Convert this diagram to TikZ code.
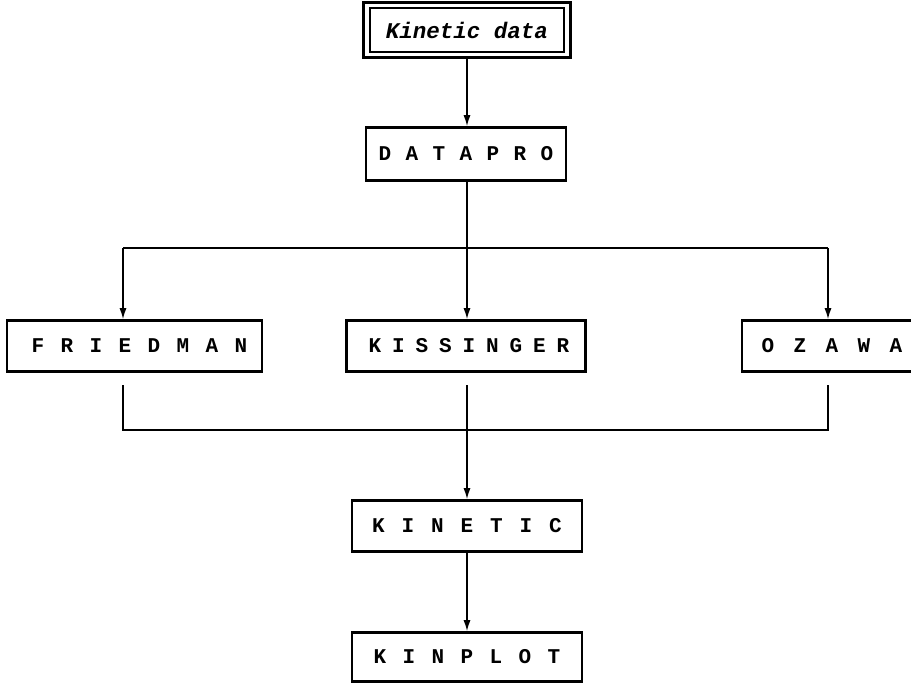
\documentclass[tikz,border=0pt]{standalone}
\usepackage{fontspec}
\setmonofont{Liberation Mono}
\usetikzlibrary{arrows.meta}
% letters set one by one at a fixed pitch
\makeatletter
\newcommand\pitched[2]{\@tfor\pch:=#2\do{\makebox[#1]{\pch}}}
\makeatother
\tikzset{
  x=1pt, y=-1pt,
  prog/.style={draw, line width=2.6pt, inner sep=0pt, anchor=center,
    font=\ttfamily\bfseries\fontsize{21}{21}\selectfont},
  wire/.style={line width=1.4pt},
  arr/.style={wire, -{Latex[length=11pt,width=7pt]}},
}
\begin{document}
\begin{tikzpicture}
\useasboundingbox (0,0) rectangle (911,683);
\clip (0,0) rectangle (911,683);

% input data box (double frame)
\node[draw, line width=2.8pt, minimum width=207pt, minimum height=55pt, inner sep=0pt]
  (data) at (467,30) {};
\node[draw, line width=1.2pt, minimum width=194pt, minimum height=44pt, inner sep=0pt,
  font=\ttfamily\bfseries\itshape\fontsize{22.5}{22.5}\selectfont]
  (datain) at (467,30) {Kinetic data};

% programs
\node[prog, minimum width=200pt, minimum height=53pt] (datapro) at (466,154)
  {\pitched{27pt}{DATAPRO}};
\node[prog, minimum width=255pt, minimum height=51pt] (friedman) at (134.5,346)
  {\hspace{10pt}\pitched{29pt}{FRIEDMAN}};
\node[prog, minimum width=239pt, minimum height=51pt] (kissinger) at (466,346)
  {\hspace{6pt}\pitched{23.5pt}{KISSINGER}};
\node[prog, minimum width=180pt, minimum height=51pt] (ozawa) at (832,346)
  {\pitched{32pt}{OZAWA}\hspace{4pt}};
\node[prog, minimum width=230pt, minimum height=51pt] (kinetic) at (467,526)
  {\pitched{29.5pt}{KINETIC}};
\node[prog, minimum width=230pt, minimum height=49pt] (kinplot) at (467,657)
  {\pitched{29pt}{KINPLOT}};

% branching points
\coordinate (split) at (467,248);
\coordinate (splitL) at (123,248);
\coordinate (splitR) at (828,248);
\coordinate (outL) at (123,385);
\coordinate (outM) at (467,385);
\coordinate (outR) at (828,385);
\coordinate (joinL) at (123,430);
\coordinate (joinR) at (828,430);

% connectors
\draw[arr] (data.south -| split) -- (datapro.north -| split);
\draw[wire] (datapro.south -| split) -- (split);
\draw[wire] (splitL) -- (splitR);
\draw[arr] (splitL) -- (splitL |- friedman.north);
\draw[arr] (split) -- (split |- kissinger.north);
\draw[arr] (splitR) -- (splitR |- ozawa.north);

\draw[wire] (outL) -- (joinL) -- (joinR) -- (outR);
\draw[arr] (outM) -- (outM |- kinetic.north);
\draw[arr] (kinetic.south -| split) -- (kinplot.north -| split);
\end{tikzpicture}
\end{document}
